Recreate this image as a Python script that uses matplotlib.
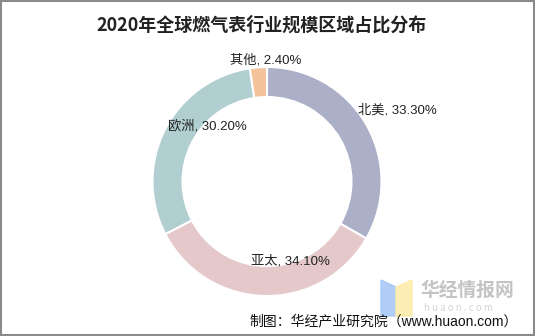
import numpy as np
import matplotlib
matplotlib.use("Agg")
import matplotlib.pyplot as plt
from matplotlib.patches import Rectangle, Polygon

plt.rcParams['font.family'] = ['Noto Sans CJK SC', 'DejaVu Sans']
label_font = ['Liberation Sans', 'Noto Sans CJK SC']

# data
regions = ['北美', '亚太', '欧洲', '其他']
shares = [33.3, 34.1, 30.2, 2.4]
colors = ['#abb0c8', '#e4c8ca', '#b1cfd1', '#f5c39b']

W, H = 535, 336
fig = plt.figure(figsize=(W / 100, H / 100), dpi=100)
ax = fig.add_axes([0, 0, 1, 1])

# pixel-space geometry of the donut
cx, cy = 267, H - 181.5
r_out, ring_w = 114.5, 30

wedges, _ = ax.pie(shares, colors=colors, startangle=90, counterclock=False,
                   center=(cx, cy), radius=r_out, frame=True,
                   wedgeprops=dict(width=ring_w, edgecolor='white', linewidth=1.5))
ax.set_xlim(0, W)
ax.set_ylim(0, H)
ax.set_aspect('equal')
ax.axis('off')

# label placement: radius and alignment per slice
label_r = [133, 82, 118, 124]
label_dx = [-24, 25, 6, 8]
label_dy = [5, 2, 2, -2]
label_ha = ['left', 'center', 'left', 'center']
start = 90.0
for i, (name, val) in enumerate(zip(regions, shares)):
    mid = np.deg2rad(start - val * 3.6 / 2)
    start -= val * 3.6
    x = cx + label_r[i] * np.cos(mid) + label_dx[i]
    y = cy + label_r[i] * np.sin(mid) + label_dy[i]
    ax.text(x, y, f'{name}, {val:.2f}%', ha=label_ha[i], va='center',
            fontsize=9.5, color='#222222', family=label_font)

# title
ax.text(W / 2 - 6, H - 25, '2020年全球燃气表行业规模区域占比分布', ha='center', va='center',
        fontsize=13, fontweight='bold', color='#222222')

# watermark
ax.add_patch(Polygon([[381, 56], [396, 49], [396, 20], [381, 20]], closed=True,
                     color='#a8c8f8', alpha=0.9, zorder=1))
ax.add_patch(Polygon([[396, 49], [412, 56], [412, 20], [396, 20]], closed=True,
                     color='#fcecaa', alpha=0.9, zorder=1))
ax.text(420, 46, '华经情报网', fontsize=13.5, fontweight='bold', color='#c4c4c4',
        ha='left', va='center')
ax.text(424, 28, 'h u a o n . c o m', fontsize=7, color='#d4d4d4', ha='left', va='center')

# source note
ax.text(518, 15, '制图：华经产业研究院（www.huaon.com）', ha='right', va='center',
        fontsize=10, color='#111111', family=label_font, zorder=3)

# border
ax.add_patch(Rectangle((1, 1), W - 2, H - 2, fill=False, edgecolor='#8a8a8a', linewidth=1.5))

fig.savefig('out.png', dpi=100)
